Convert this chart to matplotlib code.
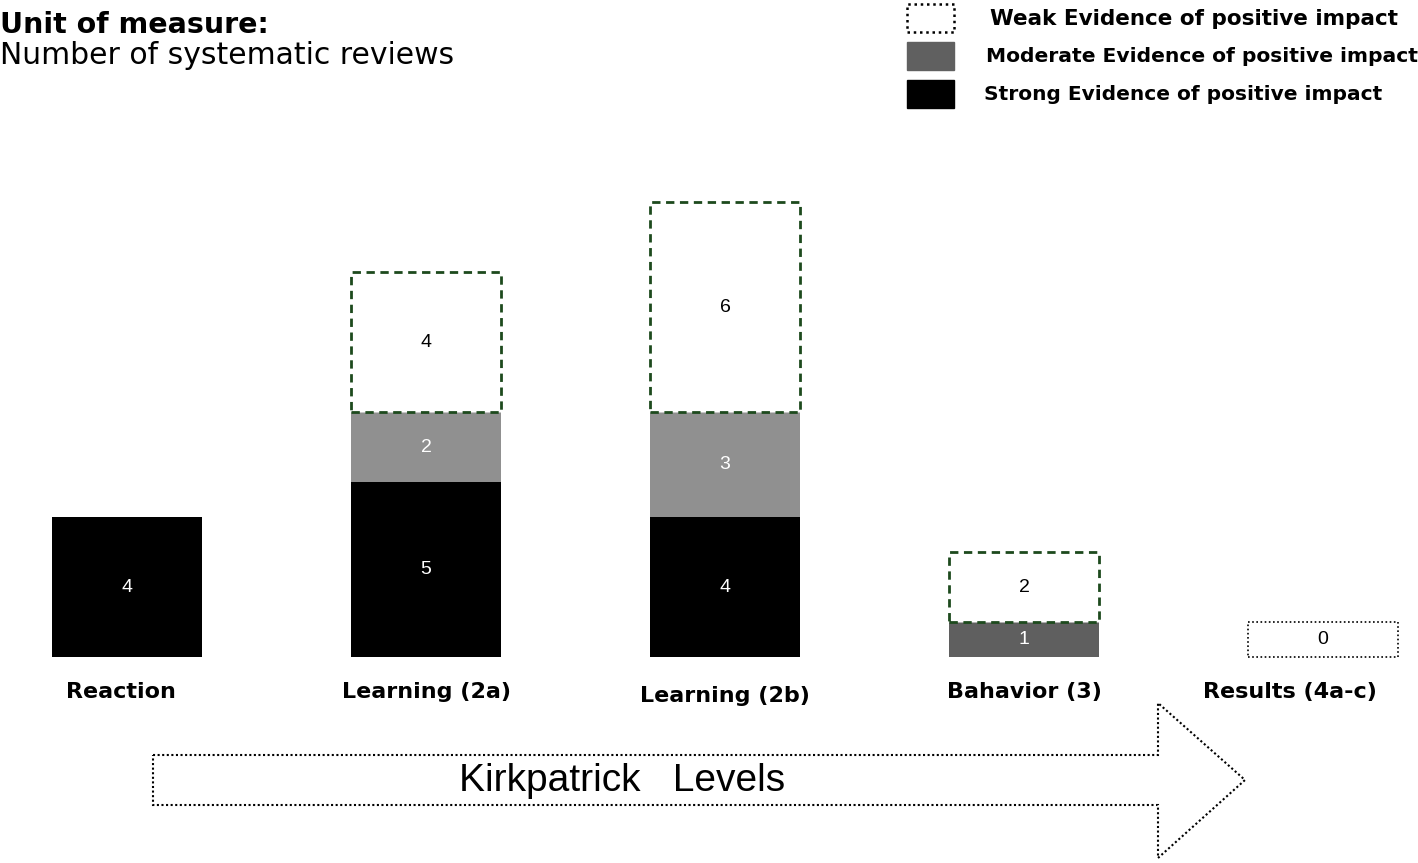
import numpy as np
import matplotlib
matplotlib.use('Agg')
import matplotlib.pyplot as plt
from matplotlib.patches import Rectangle, Polygon

plt.rcParams['font.family'] = ['DejaVu Sans']

# data
levels = ['Reaction', 'Learning (2a)', 'Learning (2b)', 'Bahavior (3)', 'Results (4a-c)']
strong = [4, 5, 4, 0, 0]
moderate = [0, 2, 3, 1, 0]
weak = [0, 4, 6, 2, 0]
moderate_colors = ['#909090', '#909090', '#909090', '#5f5f5f', '#909090']
legend_labels = ['Weak Evidence of positive impact',
                 'Moderate Evidence of positive impact',
                 'Strong Evidence of positive impact']

W, H = 1418, 863
fig = plt.figure(figsize=(W / 100, H / 100), dpi=100)

# axes fills the figure: category i at x=127+299*i px, value v at y=657-35*v px
ax = fig.add_axes([0, 0, 1, 1])
ax.set_xlim(-127 / 299, (W - 127) / 299)
ax.set_ylim(-(H - 657) / 35, 657 / 35)
ax.axis('off')

x = np.arange(len(levels))
bw = 0.5
weak_edge = '#1d4a1d'
num_font = dict(ha='center', va='center', fontsize=14, family='Liberation Sans')
# small nudges of the category labels, as in the original layout
label_dx = [-0.02, 0.0, 0.0, 0.0, -0.11]
label_y = [-1.0, -1.0, -1.1, -1.0, -1.0]

for i in x:
    s, m, w = strong[i], moderate[i], weak[i]
    if s > 0:
        ax.bar(i, s, bw, color='black')
        ax.text(i, s / 2, str(s), color='white', **num_font)
    if m > 0:
        ax.bar(i, m, bw, bottom=s, color=moderate_colors[i])
        ax.text(i, s + m / 2, str(m), color='white', **num_font)
    if w > 0:
        ax.bar(i, w, bw, bottom=s + m, facecolor='white', edgecolor=weak_edge,
               linestyle=(0, (3, 2)), linewidth=2)
        ax.text(i, s + m + w / 2, str(w), color='black', **num_font)
    if s + m + w == 0:
        # empty placeholder box for zero reviews
        ax.bar(i, 1, bw, facecolor='white', edgecolor='black',
               linestyle=(0, (1, 1.5)), linewidth=1.2)
        ax.text(i, 0.5, '0', color='black', **num_font)
    ax.text(i + label_dx[i], label_y[i], levels[i], ha='center', va='center',
            fontsize=16, fontweight='bold')

# header
fig.text(0 / W, 1 - 25 / H, 'Unit of measure:', fontsize=20.5, fontweight='bold', va='center')
fig.text(0 / W, 1 - 56 / H, 'Number of systematic reviews', fontsize=21.5, va='center')

# legend
swatches = [dict(facecolor='white', edgecolor='black', linestyle=(0, (1, 1.5)), linewidth=1.8),
            dict(facecolor='#606060', edgecolor='#606060'),
            dict(facecolor='black', edgecolor='black')]
sw_y = [4, 42, 80]
txt_x = [990, 986, 984]
txt_size = [15.5, 14.6, 14.5]
for lab, st, yy, tx, fs in zip(legend_labels, swatches, sw_y, txt_x, txt_size):
    fig.patches.append(Rectangle((907 / W, 1 - (yy + 28) / H), 47 / W, 28 / H,
                                 transform=fig.transFigure, **st))
    fig.text(tx / W, 1 - (yy + 15) / H, lab, fontsize=fs, fontweight='bold', va='center')

# Kirkpatrick arrow
pts = [(153, 755), (1158, 755), (1158, 703), (1245, 780), (1158, 858), (1158, 805), (153, 805)]
arrow = Polygon([(px / W, 1 - py / H) for px, py in pts], closed=True, transform=fig.transFigure,
                facecolor='white', edgecolor='black', linestyle=(0, (1, 1.2)), linewidth=1.5)
fig.patches.append(arrow)
fig.text(622 / W, 1 - 781 / H, 'Kirkpatrick   Levels', fontsize=28, ha='center', va='center',
         family='Liberation Sans')

fig.savefig('out.png', dpi=100)
